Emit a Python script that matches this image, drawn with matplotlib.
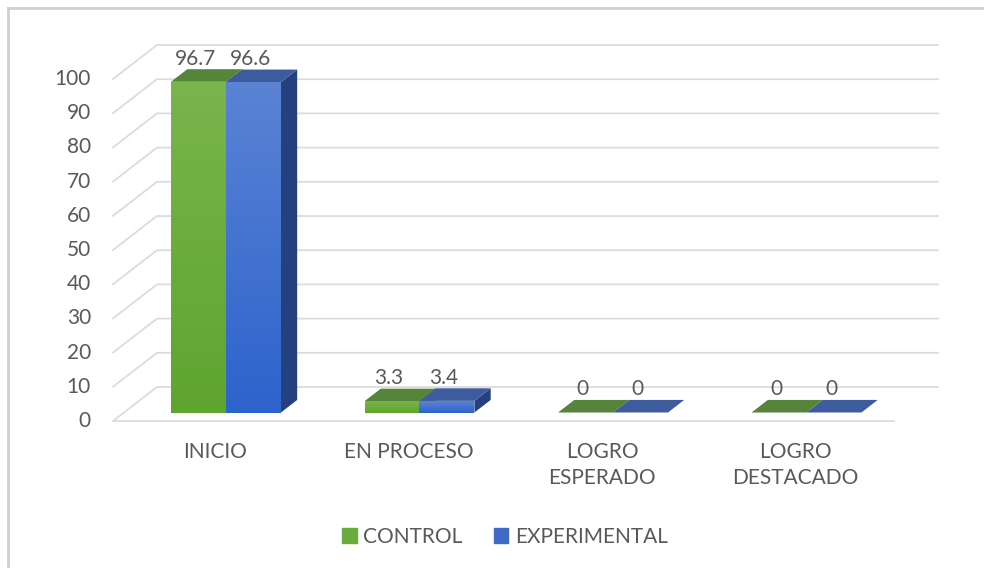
import numpy as np
import matplotlib
matplotlib.use("Agg")
import matplotlib.pyplot as plt
from matplotlib.patches import Polygon, Patch
from matplotlib.lines import Line2D
from matplotlib.colors import LinearSegmentedColormap

# data
categories = ["INICIO", "EN PROCESO", "LOGRO\nESPERADO", "LOGRO\nDESTACADO"]
control = [96.7, 3.3, 0, 0]
experimental = [96.6, 3.4, 0, 0]
series_names = ["CONTROL", "EXPERIMENTAL"]
yticks = list(range(0, 101, 10))

plt.rcParams['font.family'] = ['Lato', 'DejaVu Sans']
text_color = '#595959'
grid_color = '#dcdcdc'
FS = 15

# colours per series: front gradient (bottom, top), side, top face
styles = [
    dict(front=('#5ea52f', '#79b44c'), side='#4a7a2c', top='#55843a', legend='#6aac3d'),
    dict(front=('#2d63cc', '#5a83d4'), side='#24407f', top='#3d5c9e', legend='#3f6bc6'),
]

# fake 3d depth (x in category units, y in value units)
DX, DY = 0.227, 9.94
F0, F1 = 0.25, 0.62          # bar front / back planes as fraction of depth
BAR_W = 0.284

fig = plt.figure(figsize=(9.84, 5.68), dpi=100)
ax = fig.add_axes([0, 0, 1, 1])
ax.axis('off')

# outer frame (top and left edges only visible)
fig.add_artist(Line2D([8 / 984, 1], [1 - 8 / 568, 1 - 8 / 568], transform=fig.transFigure,
                      color='#d0d0d0', lw=2))
fig.add_artist(Line2D([8 / 984, 8 / 984], [0, 1 - 8 / 568], transform=fig.transFigure,
                      color='#d0d0d0', lw=2))

# gridlines: floor diagonal + back wall
x_left, x_right = -0.527, 3.736
for v in yticks:
    ax.plot([x_left, x_left + DX, x_right], [v, v + DY, v + DY], color=grid_color, lw=1.3, zorder=1)
    ax.text(-0.641, v, str(v), ha='right', va='center', fontsize=FS, color=text_color)
ax.plot([x_left, x_right - DX], [0, 0], color=grid_color, lw=1.3, zorder=1)

a, b = F0 * DX, F0 * DY
c, d = F1 * DX, F1 * DY

for i, cat in enumerate(categories):
    ax.text(i, -6.0, cat, ha='center', va='top', fontsize=FS, color=text_color, linespacing=1.4)
    for s, vals in enumerate([control, experimental]):
        v = vals[i]
        st = styles[s]
        x0 = i - BAR_W + s * BAR_W
        x1 = x0 + BAR_W
        side = Polygon([(x1 + a, b), (x1 + c, d), (x1 + c, v + d), (x1 + a, v + b)],
                       closed=True, fc=st['side'], ec='none', zorder=3)
        ax.add_patch(side)
        top = Polygon([(x0 + a, v + b), (x1 + a, v + b), (x1 + c, v + d), (x0 + c, v + d)],
                      closed=True, fc=st['top'], ec='none', zorder=3)
        ax.add_patch(top)
        if v > 0:
            front = Polygon([(x0 + a, b), (x1 + a, b), (x1 + a, v + b), (x0 + a, v + b)],
                            closed=True, fc='none', ec='none', zorder=4)
            ax.add_patch(front)
            cmap = LinearSegmentedColormap.from_list('g', list(st['front']))
            im = ax.imshow(np.linspace(0, 1, 64).reshape(-1, 1), cmap=cmap, origin='lower',
                           extent=[x0 + a, x1 + a, b, v + b], aspect='auto', zorder=4)
            im.set_clip_path(front)
        ax.text((x0 + x1) / 2 + a - 0.015, v + d + 1.3, f"{v:g}", ha='center', va='baseline',
                fontsize=FS, color=text_color, zorder=5)

ax.set_xlim(-1.111, 3.974)
ax.set_ylim(-42.98, 123.1)

handles = [Patch(color=st['legend']) for st in styles]
fig.legend(handles, series_names, loc='center', bbox_to_anchor=(505 / 984, 1 - 537 / 568),
           ncol=2, frameon=False, handlelength=0.7, handleheight=0.7, handletextpad=0.3,
           columnspacing=1.5, fontsize=FS, labelcolor=text_color)

fig.savefig('out.png', dpi=100, facecolor='white')
